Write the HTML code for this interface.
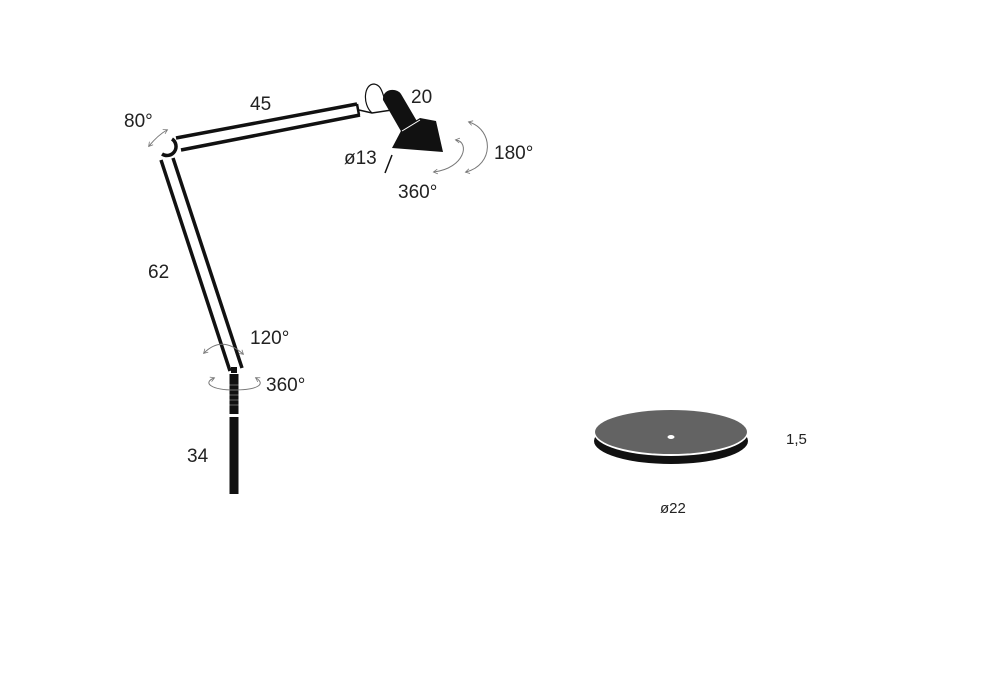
<!DOCTYPE html>
<html><head><meta charset="utf-8"><style>
html,body{margin:0;padding:0;background:#fff;}
svg{display:block;}
text{font-family:"Liberation Sans",sans-serif;fill:#222;}
</style></head><body>
<svg width="1000" height="700" viewBox="0 0 1000 700" xmlns="http://www.w3.org/2000/svg">
<defs>
<marker id="ah" viewBox="0 0 10 10" refX="7" refY="5" markerWidth="6" markerHeight="6" orient="auto-start-reverse">
<path d="M1,1 L8,5 L1,9" fill="none" stroke="#777" stroke-width="1.3"/>
</marker>
</defs>
<!-- upper arm -->
<line x1="176" y1="138" x2="357" y2="104" stroke="#111" stroke-width="3.5"/>
<line x1="181" y1="150" x2="360" y2="115" stroke="#111" stroke-width="3.5"/>
<line x1="357" y1="104" x2="359" y2="115" stroke="#111" stroke-width="2.5"/>
<!-- joint -->
<path d="M172,139 A9,9 0 1,1 162,154" fill="none" stroke="#111" stroke-width="3.5"/>
<!-- lower arm -->
<line x1="161" y1="160" x2="230" y2="371" stroke="#111" stroke-width="3.5"/>
<line x1="173" y1="158" x2="242" y2="368" stroke="#111" stroke-width="3.5"/>
<rect x="231" y="367" width="6" height="6" fill="#111"/>
<!-- pole -->
<rect x="229.5" y="374" width="9" height="40" fill="#111"/>
<rect x="229.5" y="417" width="9" height="77" fill="#111"/>
<g stroke="#fff" stroke-width="0.6" opacity="0.6">
<line x1="229" y1="385" x2="239" y2="385"/><line x1="229" y1="390" x2="239" y2="390"/><line x1="229" y1="395" x2="239" y2="395"/><line x1="229" y1="400" x2="239" y2="400"/><line x1="229" y1="405" x2="239" y2="405"/>
</g>
<!-- cord and connector -->
<path d="M359,110 L372,113 L392,110" fill="none" stroke="#111" stroke-width="1.5"/>
<path d="M372,113 C362,104 364,84 374,84 C381,85 382,92 384,97" fill="none" stroke="#111" stroke-width="1.2"/>
<!-- lamp neck -->
<path d="M383,100 C382,89 396,87 401,94 L418,123 L402,133 Z" fill="#111"/>
<!-- shade -->
<path d="M392,148 L402,129 L420,118 L436,121 L443,152 Z" fill="#111"/>
<line x1="402" y1="131" x2="420" y2="120" stroke="#fff" stroke-width="1"/>
<!-- ø13 slash -->
<line x1="392" y1="155" x2="385" y2="173" stroke="#111" stroke-width="1.5"/>
<!-- rotation arrows -->
<g fill="none" stroke="#777" stroke-width="1">
<path d="M149,146 Q158,135 167,130" marker-start="url(#ah)" marker-end="url(#ah)"/>
<path d="M204,353 Q222,335 243,354" marker-start="url(#ah)" marker-end="url(#ah)"/>
<path d="M214,378 C202,383 212,390 234,390 C258,390 266,384 256,378" marker-start="url(#ah)" marker-end="url(#ah)"/>
<path d="M469,122 C494,130 494,165 466,172" marker-start="url(#ah)" marker-end="url(#ah)"/>
<path d="M456,140 C470,142 465,168 434,172" marker-start="url(#ah)" marker-end="url(#ah)"/>
</g>
<!-- base disc -->
<ellipse cx="671" cy="441" rx="77" ry="23" fill="#111"/>
<ellipse cx="671" cy="433" rx="77" ry="23" fill="#fff"/>
<ellipse cx="671" cy="432" rx="76" ry="22" fill="#636363"/>
<ellipse cx="671" cy="437" rx="3.5" ry="2" fill="#fff"/>
<!-- labels -->
<g font-size="19">
<text x="250" y="110">45</text>
<text x="124" y="127">80°</text>
<text x="411" y="103">20</text>
<text x="344" y="164">ø13</text>
<text x="494" y="159">180°</text>
<text x="398" y="198">360°</text>
<text x="148" y="278">62</text>
<text x="250" y="344">120°</text>
<text x="266" y="391">360°</text>
<text x="187" y="462">34</text>
</g>
<g font-size="15">
<text x="786" y="444">1,5</text>
<text x="660" y="513">ø22</text>
</g>
</svg>
</body></html>
